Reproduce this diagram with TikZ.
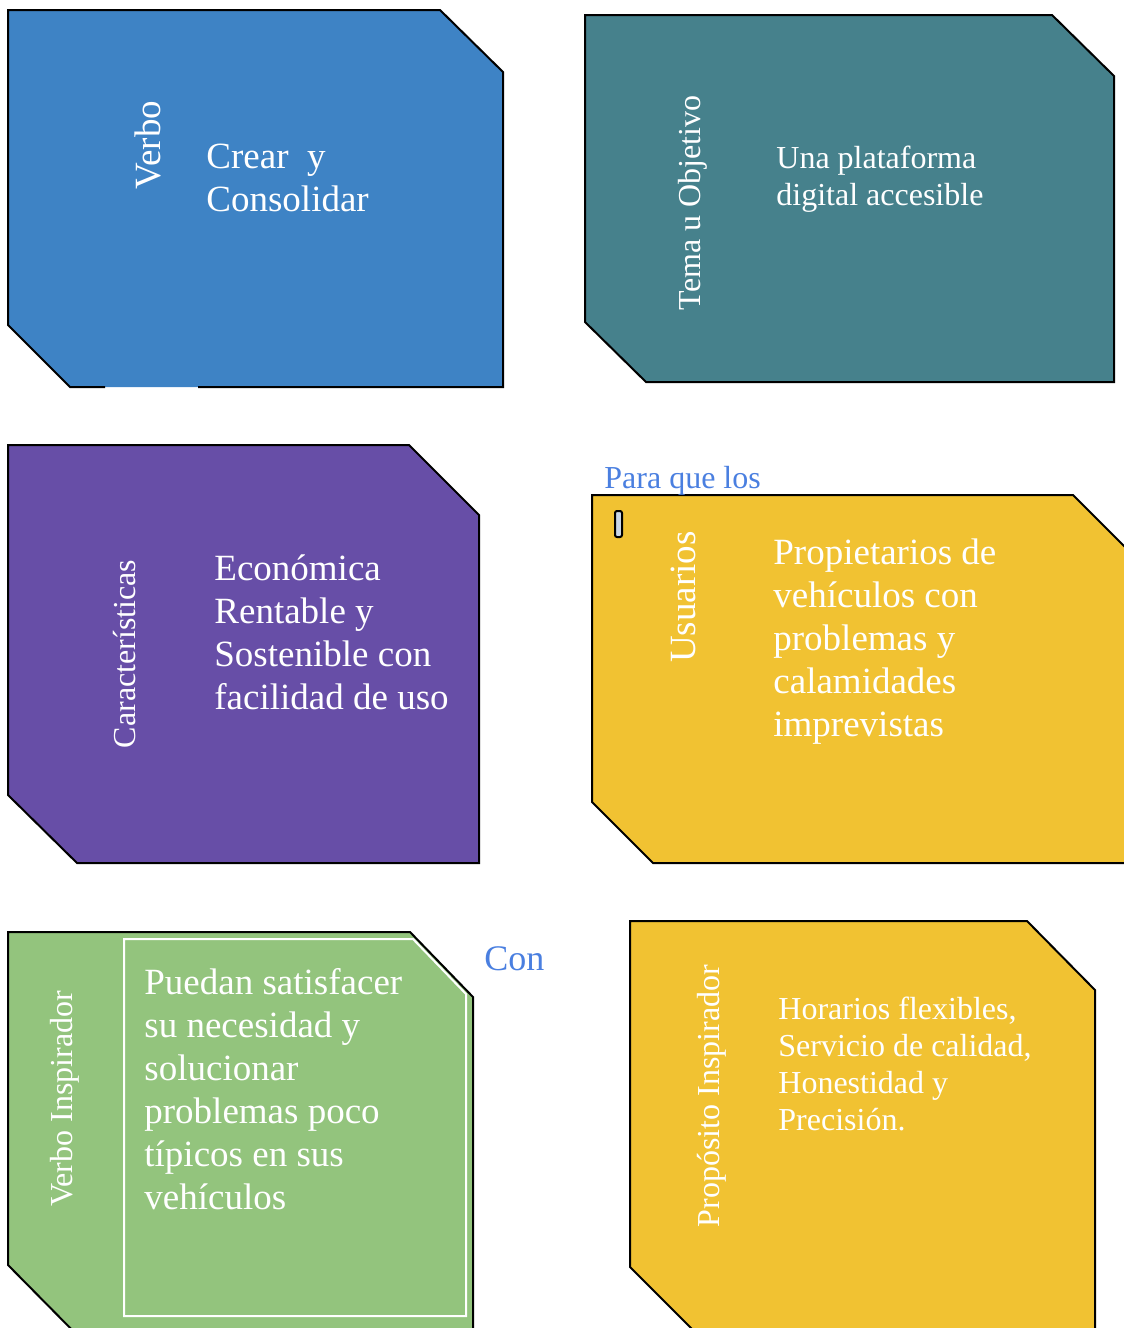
\documentclass[tikz,border=0pt]{standalone}
\usepackage{fontspec}
\setmainfont{Liberation Serif}
\definecolor{cblue}{HTML}{3E83C5}
\definecolor{cteal}{HTML}{46818C}
\definecolor{cpurple}{HTML}{674EA7}
\definecolor{cyellow}{HTML}{F1C232}
\definecolor{cgreen}{HTML}{93C47D}
\definecolor{clink}{HTML}{4A7FE0}
\definecolor{cmark}{HTML}{C9D6E6}
\begin{document}
\begin{tikzpicture}[x=0.5pt,y=-0.5pt,
  border/.style={draw=black,line width=1pt,line join=miter},
  bigtext/.style={font=\fontsize{18.5}{21.5}\selectfont,text=white,inner sep=0pt,anchor=base west,align=left},
  smalltext/.style={font=\fontsize{16}{18.5}\selectfont,text=white,inner sep=0pt,anchor=base west,align=left},
  sidebig/.style={rotate=90,text=white,inner sep=0pt,font=\fontsize{18.5}{21}\selectfont},
  sidesmall/.style={rotate=90,text=white,inner sep=0pt,font=\fontsize{16}{18.5}\selectfont},
  linktext/.style={text=clink,inner sep=0pt,anchor=base west}]
\clip (0,0) rectangle (1124,1328);
% box 1 Verbo
\fill[cblue] (8,10) -- (440,10) -- (503,72) -- (503,387) -- (70,387) -- (8,325) -- cycle;
\draw[border] (105,387) -- (70,387) -- (8,325) -- (8,10) -- (440,10) -- (503,72) -- (503,387) -- (198,387);
\node[sidebig] (verbo) at (148,145) {Verbo};
\node[bigtext] (crear) at (206,211) {Crear\ \ y\\Consolidar};
% box 2 Tema
\filldraw[border,fill=cteal] (585,15) -- (1052,15) -- (1114,76) -- (1114,382) -- (646,382) -- (585,322) -- cycle;
\node[sidesmall] (tema) at (693,203) {Tema u Objetivo};
\node[smalltext] (plataforma) at (776,205) {Una plataforma\\digital accesible};
% box 3 Caracteristicas
\filldraw[border,fill=cpurple] (8,445) -- (409,445) -- (479,515) -- (479,863) -- (77,863) -- (8,795) -- cycle;
\node[sidesmall] (caract) at (125,654) {Características};
\node[bigtext] (economica) at (214,709) {Económica\\Rentable y\\Sostenible con\\facilidad de uso};
% box 4 Usuarios
\filldraw[border,fill=cyellow] (592,495) -- (1073,495) -- (1140,562) -- (1140,863) -- (653,863) -- (592,802) -- cycle;
\node[linktext,font=\fontsize{16}{18.5}\selectfont] (para) at (604,488) {Para que los};
\draw[line width=1pt,fill=cmark,rounded corners=1pt] (615,511) rectangle (622,537);
\node[sidebig] (usuarios) at (683,597) {Usuarios};
\node[bigtext] (propietarios) at (773,736) {Propietarios de\\vehículos con\\problemas y\\calamidades\\imprevistas};
% box 5 Verbo Inspirador
\filldraw[border,fill=cgreen] (8,932) -- (410,932) -- (473,997) -- (473,1345) -- (87,1345) -- (8,1265) -- cycle;
\draw[white,line width=1pt] (124,939) -- (413,939) -- (466,994) -- (466,1316) -- (124,1316) -- cycle;
\node[sidesmall] (verboinsp) at (65,1099) {Verbo Inspirador};
\node[bigtext] (puedan) at (144,1209) {Puedan satisfacer\\su necesidad y\\solucionar\\problemas poco\\típicos en sus\\vehículos};
\node[linktext,font=\fontsize{18}{21}\selectfont] (con) at (484,970) {Con};
% box 6 Proposito Inspirador
\filldraw[border,fill=cyellow] (630,921) -- (1027,921) -- (1095,990) -- (1095,1345) -- (708,1345) -- (630,1267) -- cycle;
\node[sidesmall] (proposito) at (712,1096) {Propósito Inspirador};
\node[smalltext] (horarios) at (778,1130) {Horarios flexibles,\\Servicio de calidad,\\Honestidad y\\Precisión.};
\end{tikzpicture}
\end{document}
